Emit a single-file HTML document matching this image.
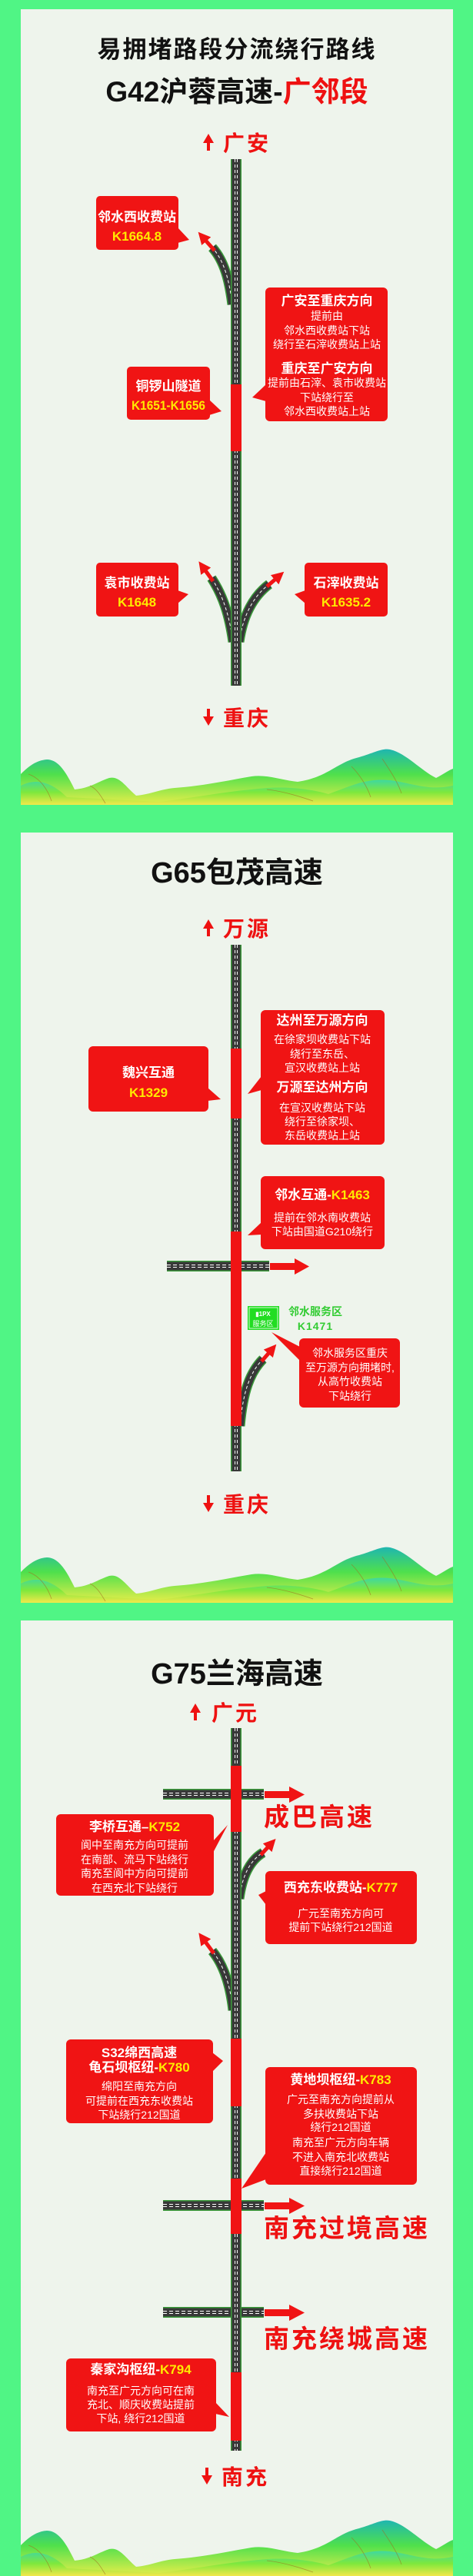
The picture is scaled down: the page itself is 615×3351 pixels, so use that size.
<!DOCTYPE html>
<html><head><meta charset="utf-8"><style>
html,body{margin:0;padding:0;background:#50f585;}
svg{display:block}
text{font-family:"Liberation Sans","Noto Sans CJK SC",sans-serif;}
.t{font-weight:bold;fill:#111;text-anchor:middle}
.h{font-weight:bold;fill:#fff;text-anchor:middle;font-size:17px}
.b{fill:#fff;text-anchor:middle;font-size:14px}
.y{fill:#ffea00}
.r{fill:#ee1111;font-weight:bold}
</style></head><body>
<svg width="615" height="3351" viewBox="0 0 615 3351" xmlns="http://www.w3.org/2000/svg">
<defs>
<linearGradient id="mg" x1="0" y1="0" x2="0" y2="1">
<stop offset="0" stop-color="#1fb6b0"/><stop offset="0.45" stop-color="#4fe04c"/><stop offset="1" stop-color="#e8ee4a"/>
</linearGradient>
<linearGradient id="mg2" x1="0" y1="0" x2="0" y2="1">
<stop offset="0" stop-color="#3ed8a0"/><stop offset="0.5" stop-color="#7ee83c"/><stop offset="1" stop-color="#f2e84a"/>
</linearGradient>
<symbol id="mt" viewBox="0 0 562 80" width="562" height="80">
<path d="M0,80 L0,40 C10,30 20,22 34,21 C50,21 60,40 70,60 C90,58 100,50 115,45 C128,42 135,55 150,68 C170,66 180,60 200,58 C240,55 270,48 300,43 C320,40 340,48 360,50 C400,44 410,25 440,18 C460,12 470,6 480,8 C500,12 520,35 540,45 C550,40 556,35 562,33 L562,80Z" fill="url(#mg)"/>
<path d="M0,80 L0,55 C20,45 40,50 60,70 C100,72 140,74 180,76 C230,70 270,62 320,58 C350,56 380,60 400,66 C430,55 450,45 480,48 C510,52 530,62 562,55 L562,80Z" fill="url(#mg2)"/>
<path d="M10,40 C25,45 35,60 40,75 M90,55 C100,60 105,70 110,78 M430,30 C440,40 450,55 455,70 M470,20 C480,35 490,50 495,65 M320,60 C340,62 360,68 380,75" stroke="#a06a20" stroke-width="0.8" fill="none" opacity="0.6"/>
</symbol>
<marker id="ah" viewBox="0 0 10 10" refX="4" refY="5" markerWidth="3.2" markerHeight="3.2" orient="auto"><path d="M0,0 L10,5 L0,10z" fill="#f01414"/></marker>
</defs>

<rect x="27" y="12" width="562" height="1035" fill="#eef4ec"/>
<rect x="27" y="1083" width="562" height="1002" fill="#eef4ec"/>
<rect x="27" y="2108" width="562" height="1243" fill="#eef4ec"/>

<!-- ===== PANEL 1 ===== -->
<text class="t" x="308" y="75" font-size="31" letter-spacing="2">易拥堵路段分流绕行路线</text>
<text class="t" x="308" y="132" font-size="37">G42沪蓉高速-<tspan fill="#ee1111">广邻段</tspan></text>
<path d="M269,196 L269,186 L264,186 L271,174 L278,186 L273,186 L273,196Z" fill="#ee1111"/>
<text class="r" x="290" y="196" font-size="28" letter-spacing="3">广安</text>

<g fill="none">
<path d="M302,396 C298,365 292,340 276,322" stroke="#3a9a3a" stroke-width="13"/>
<path d="M302,396 C298,365 292,340 276,322" stroke="#383838" stroke-width="10"/>
<path d="M302,396 C298,365 292,340 276,322" stroke="#fff" stroke-width="1" stroke-dasharray="4 3"/>
<path d="M279,326 L264,309" stroke="#f01414" stroke-width="5" marker-end="url(#ah)"/>
<path d="M303,835 C298,800 290,775 275,752" stroke="#3a9a3a" stroke-width="13"/>
<path d="M303,835 C298,800 290,775 275,752" stroke="#383838" stroke-width="10"/>
<path d="M303,835 C298,800 290,775 275,752" stroke="#fff" stroke-width="1" stroke-dasharray="4 3"/>
<path d="M277,756 L264,738" stroke="#f01414" stroke-width="5" marker-end="url(#ah)"/>
<path d="M311,835 C316,800 330,775 350,760" stroke="#3a9a3a" stroke-width="13"/>
<path d="M311,835 C316,800 330,775 350,760" stroke="#383838" stroke-width="10"/>
<path d="M311,835 C316,800 330,775 350,760" stroke="#fff" stroke-width="1" stroke-dasharray="4 3"/>
<path d="M347,763 L362,750" stroke="#f01414" stroke-width="5" marker-end="url(#ah)"/>
</g>
<rect x="300" y="207" width="14" height="685" fill="#3a9a3a"/>
<rect x="301.5" y="207" width="11" height="685" fill="#383838"/>
<path d="M305.5,207V892M308.5,207V892" stroke="#fff" stroke-width="1" stroke-dasharray="4 3"/>
<rect x="300" y="500" width="14" height="87" fill="#f01414"/>

<rect x="125" y="255" width="107" height="70" rx="5" fill="#f01414"/>
<polygon points="231,296 246,312 231,316" fill="#f01414"/>
<text class="h" x="178" y="288" font-size="16">邻水西收费站</text>
<text class="h y" x="178" y="313" font-size="16">K1664.8</text>

<rect x="345" y="374" width="159" height="174" rx="6" fill="#f01414"/>
<polygon points="346,500 328,517 346,522" fill="#f01414"/>
<text class="h" x="425" y="397">广安至重庆方向</text>
<text class="b" x="425" y="416">提前由</text>
<text class="b" x="425" y="435">邻水西收费站下站</text>
<text class="b" x="425" y="453">绕行至石滓收费站上站</text>
<text class="h" x="425" y="485">重庆至广安方向</text>
<text class="b" x="425" y="503">提前由石滓、袁市收费站</text>
<text class="b" x="425" y="522">下站绕行至</text>
<text class="b" x="425" y="540">邻水西收费站上站</text>

<rect x="165" y="477" width="108" height="69" rx="5" fill="#f01414"/>
<polygon points="272,520 288,535 272,540" fill="#f01414"/>
<text class="h" x="219" y="508" font-size="16">铜锣山隧道</text>
<text class="h y" x="219" y="533" font-size="14" textLength="96" lengthAdjust="spacingAndGlyphs">K1651-K1656</text>

<rect x="125" y="732" width="107" height="70" rx="5" fill="#f01414"/>
<polygon points="231,768 245,773 231,785" fill="#f01414"/>
<text class="h" x="178" y="764" font-size="16">袁市收费站</text>
<text class="h y" x="178" y="789" font-size="16">K1648</text>

<rect x="396" y="732" width="108" height="70" rx="5" fill="#f01414"/>
<polygon points="397,768 383,773 397,785" fill="#f01414"/>
<text class="h" x="450" y="764" font-size="16">石滓收费站</text>
<text class="h y" x="450" y="789" font-size="16">K1635.2</text>

<path d="M269,922 L269,932 L264,932 L271,944 L278,932 L273,932 L273,922Z" fill="#ee1111"/>
<text class="r" x="290" y="944" font-size="28" letter-spacing="3">重庆</text>
<use href="#mt" x="27" y="967"/>

<!-- ===== PANEL 2 ===== -->
<text class="t" x="308" y="1148" font-size="38">G65包茂高速</text>
<path d="M269,1218 L269,1208 L264,1208 L271,1196 L278,1208 L273,1208 L273,1218Z" fill="#ee1111"/>
<text class="r" x="290" y="1218" font-size="28" letter-spacing="3">万源</text>

<rect x="217" y="1640" width="133" height="14" fill="#3a9a3a"/>
<rect x="217" y="1641.5" width="133" height="11" fill="#383838"/>
<path d="M217,1645.5H350M217,1648.5H350" stroke="#fff" stroke-width="1" stroke-dasharray="5 3"/>
<rect x="351" y="1643" width="33" height="9" fill="#f01414"/>
<polygon points="383,1637 402,1647.5 383,1658" fill="#f01414"/>
<g fill="none">
<path d="M312,1855 C316,1810 325,1785 342,1768" stroke="#3a9a3a" stroke-width="13"/>
<path d="M312,1855 C316,1810 325,1785 342,1768" stroke="#383838" stroke-width="10"/>
<path d="M312,1855 C316,1810 325,1785 342,1768" stroke="#fff" stroke-width="1" stroke-dasharray="4 3"/>
<path d="M340,1771 L353,1756" stroke="#f01414" stroke-width="5" marker-end="url(#ah)"/>
</g>
<rect x="300" y="1229" width="14" height="685" fill="#3a9a3a"/>
<rect x="301.5" y="1229" width="11" height="685" fill="#383838"/>
<path d="M305.5,1229V1914M308.5,1229V1914" stroke="#fff" stroke-width="1" stroke-dasharray="4 3"/>
<rect x="300" y="1364" width="14" height="91" fill="#f01414"/>
<rect x="300" y="1602" width="14" height="253" fill="#f01414"/>

<rect x="115" y="1361" width="156" height="85" rx="6" fill="#f01414"/>
<polygon points="270,1415 287,1430 270,1432" fill="#f01414"/>
<text class="h" x="193" y="1401" font-size="18">魏兴互通</text>
<text class="h y" x="193" y="1427" font-size="18">K1329</text>

<rect x="339" y="1314" width="161" height="175" rx="6" fill="#f01414"/>
<polygon points="340,1400 322,1423 340,1418" fill="#f01414"/>
<text class="h" x="419" y="1333">达州至万源方向</text>
<text class="b" x="419" y="1357">在徐家坝收费站下站</text>
<text class="b" x="419" y="1376">绕行至东岳、</text>
<text class="b" x="419" y="1394">宣汉收费站上站</text>
<text class="h" x="419" y="1420">万源至达州方向</text>
<text class="b" x="419" y="1446">在宣汉收费站下站</text>
<text class="b" x="419" y="1464">绕行至徐家坝、</text>
<text class="b" x="419" y="1482">东岳收费站上站</text>

<rect x="339" y="1530" width="161" height="95" rx="6" fill="#f01414"/>
<polygon points="340,1590 322,1607 340,1606" fill="#f01414"/>
<text class="h" x="419" y="1560">邻水互通-<tspan class="y">K1463</tspan></text>
<text class="b" x="419" y="1589" font-size="14.5">提前在邻水南收费站</text>
<text class="b" x="419" y="1607" font-size="14.5">下站由国道G210绕行</text>

<rect x="322" y="1699" width="41" height="31" fill="#22dd22"/>
<rect x="324" y="1701" width="37" height="27" fill="none" stroke="#fff" stroke-width="0.8"/>
<text x="342" y="1712" font-size="8" fill="#fff" text-anchor="middle" font-weight="bold">▮1PX</text>
<text x="342" y="1725" font-size="9" fill="#fff" text-anchor="middle">服务区</text>
<text x="410" y="1711" font-size="14" fill="#33cc33" text-anchor="middle" font-weight="bold">邻水服务区</text>
<text x="410" y="1730" font-size="14" fill="#33cc33" text-anchor="middle" font-weight="bold" letter-spacing="1">K1471</text>

<rect x="389" y="1741" width="131" height="90" rx="6" fill="#f01414"/>
<polygon points="390,1752 353,1733 390,1770" fill="#f01414"/>
<text class="b" x="455" y="1765" font-size="13.5">邻水服务区重庆</text>
<text class="b" x="455" y="1784" font-size="13.5">至万源方向拥堵时,</text>
<text class="b" x="455" y="1802" font-size="13.5">从高竹收费站</text>
<text class="b" x="455" y="1821" font-size="13.5">下站绕行</text>

<path d="M269,1945 L269,1955 L264,1955 L271,1967 L278,1955 L273,1955 L273,1945Z" fill="#ee1111"/>
<text class="r" x="290" y="1967" font-size="28" letter-spacing="3">重庆</text>
<use href="#mt" x="27" y="2005"/>

<!-- ===== PANEL 3 ===== -->
<text class="t" x="308" y="2190" font-size="38">G75兰海高速</text>
<path d="M252,2238 L252,2228 L247,2228 L254,2216 L261,2228 L256,2228 L256,2238Z" fill="#ee1111"/>
<text class="r" x="275" y="2238" font-size="28" letter-spacing="3">广元</text>

<g>
<rect x="212" y="2327" width="131" height="14" fill="#3a9a3a"/>
<rect x="212" y="2328.5" width="131" height="11" fill="#383838"/>
<path d="M212,2332.5H343M212,2335.5H343" stroke="#fff" stroke-width="1" stroke-dasharray="5 3"/>
<rect x="344" y="2330" width="33" height="9" fill="#f01414"/>
<polygon points="376,2324 396,2334.5 376,2345" fill="#f01414"/>
</g>
<g>
<rect x="212" y="2862" width="131" height="14" fill="#3a9a3a"/>
<rect x="212" y="2863.5" width="131" height="11" fill="#383838"/>
<path d="M212,2867.5H343M212,2870.5H343" stroke="#fff" stroke-width="1" stroke-dasharray="5 3"/>
<rect x="344" y="2865" width="33" height="9" fill="#f01414"/>
<polygon points="376,2859 396,2869.5 376,2880" fill="#f01414"/>
</g>
<g>
<rect x="212" y="3001" width="131" height="14" fill="#3a9a3a"/>
<rect x="212" y="3002.5" width="131" height="11" fill="#383838"/>
<path d="M212,3006.5H343M212,3009.5H343" stroke="#fff" stroke-width="1" stroke-dasharray="5 3"/>
<rect x="344" y="3004" width="33" height="9" fill="#f01414"/>
<polygon points="376,2998 396,3008.5 376,3019" fill="#f01414"/>
</g>
<text class="r" x="343" y="2375" font-size="33" letter-spacing="3">成巴高速</text>
<text class="r" x="343" y="2910" font-size="33" letter-spacing="3">南充过境高速</text>
<text class="r" x="343" y="3054" font-size="33" letter-spacing="3">南充绕城高速</text>

<g fill="none">
<path d="M311,2470 C315,2440 325,2420 342,2410" stroke="#3a9a3a" stroke-width="13"/>
<path d="M311,2470 C315,2440 325,2420 342,2410" stroke="#383838" stroke-width="10"/>
<path d="M311,2470 C315,2440 325,2420 342,2410" stroke="#fff" stroke-width="1" stroke-dasharray="4 3"/>
<path d="M339,2413 L352,2399" stroke="#f01414" stroke-width="5" marker-end="url(#ah)"/>
<path d="M303,2615 C299,2580 290,2555 276,2538" stroke="#3a9a3a" stroke-width="13"/>
<path d="M303,2615 C299,2580 290,2555 276,2538" stroke="#383838" stroke-width="10"/>
<path d="M303,2615 C299,2580 290,2555 276,2538" stroke="#fff" stroke-width="1" stroke-dasharray="4 3"/>
<path d="M278,2541 L264,2522" stroke="#f01414" stroke-width="5" marker-end="url(#ah)"/>
</g>
<rect x="300" y="2248" width="14" height="940" fill="#3a9a3a"/>
<rect x="301.5" y="2248" width="11" height="940" fill="#383838"/>
<path d="M305.5,2248V3188M308.5,2248V3188" stroke="#fff" stroke-width="1" stroke-dasharray="4 3"/>
<rect x="300" y="2297" width="14" height="86" fill="#f01414"/>
<rect x="300" y="2652" width="14" height="88" fill="#f01414"/>
<rect x="300" y="2834" width="14" height="72" fill="#f01414"/>
<rect x="300" y="3086" width="14" height="89" fill="#f01414"/>

<rect x="73" y="2360" width="205" height="106" rx="6" fill="#f01414"/>
<polygon points="277,2395 296,2374 277,2410" fill="#f01414"/>
<text class="h" x="175" y="2382">李桥互通–<tspan class="y">K752</tspan></text>
<text class="b" x="175" y="2405" font-size="15">阆中至南充方向可提前</text>
<text class="b" x="175" y="2424" font-size="15">在南部、流马下站绕行</text>
<text class="b" x="175" y="2442" font-size="15">南充至阆中方向可提前</text>
<text class="b" x="175" y="2461" font-size="15">在西充北下站绕行</text>

<rect x="345" y="2434" width="197" height="95" rx="6" fill="#f01414"/>
<polygon points="346,2460 336,2465 346,2478" fill="#f01414"/>
<text class="h" x="443" y="2461">西充东收费站-<tspan class="y">K777</tspan></text>
<text class="b" x="443" y="2494" font-size="15">广元至南充方向可</text>
<text class="b" x="443" y="2512" font-size="15">提前下站绕行212国道</text>

<rect x="86" y="2653" width="191" height="109" rx="6" fill="#f01414"/>
<polygon points="276,2670 290,2681 276,2695" fill="#f01414"/>
<text class="h" x="181" y="2676">S32绵西高速</text>
<text class="h" x="181" y="2695">龟石坝枢纽-<tspan class="y">K780</tspan></text>
<text class="b" x="181" y="2719" font-size="14.5">绵阳至南充方向</text>
<text class="b" x="181" y="2738" font-size="14.5">可提前在西充东收费站</text>
<text class="b" x="181" y="2756" font-size="14.5">下站绕行212国道</text>

<rect x="345" y="2689" width="197" height="153" rx="6" fill="#f01414"/>
<polygon points="346,2800 314,2847 346,2835" fill="#f01414"/>
<text class="h" x="443" y="2711">黄地坝枢纽-<tspan class="y">K783</tspan></text>
<text class="b" x="443" y="2736" font-size="14.5">广元至南充方向提前从</text>
<text class="b" x="443" y="2755" font-size="14.5">多扶收费站下站</text>
<text class="b" x="443" y="2772" font-size="14.5">绕行212国道</text>
<text class="b" x="443" y="2792" font-size="14.5">南充至广元方向车辆</text>
<text class="b" x="443" y="2811" font-size="14.5">不进入南充北收费站</text>
<text class="b" x="443" y="2829" font-size="14.5">直接绕行212国道</text>

<rect x="86" y="3068" width="195" height="95" rx="6" fill="#f01414"/>
<polygon points="280,3125 298,3144 280,3140" fill="#f01414"/>
<text class="h" x="183" y="3088">秦家沟枢纽-<tspan class="y">K794</tspan></text>
<text class="b" x="183" y="3115" font-size="14.5">南充至广元方向可在南</text>
<text class="b" x="183" y="3133" font-size="14.5">充北、顺庆收费站提前</text>
<text class="b" x="183" y="3151" font-size="14.5">下站, 绕行212国道</text>

<path d="M267,3210 L267,3220 L262,3220 L269,3232 L276,3220 L271,3220 L271,3210Z" fill="#ee1111"/>
<text class="r" x="288" y="3232" font-size="28" letter-spacing="3">南充</text>
<use href="#mt" x="27" y="3271"/>
</svg>
</body></html>
